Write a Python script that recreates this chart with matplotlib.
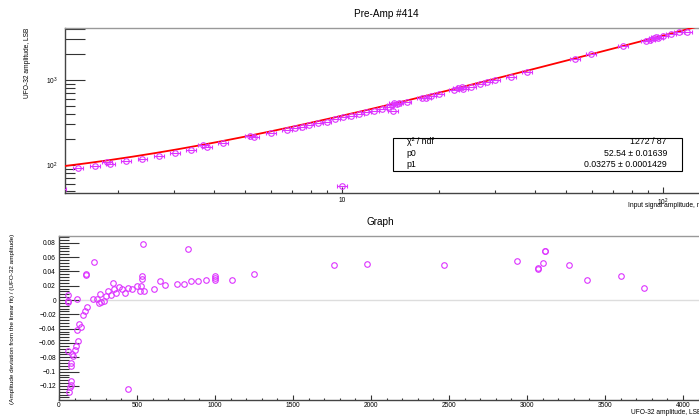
import matplotlib
matplotlib.use('Agg')
import matplotlib.pyplot as plt
from matplotlib.patches import Rectangle
from matplotlib.ticker import FixedLocator, FuncFormatter, MultipleLocator, NullFormatter
import numpy as np

plt.rcParams['font.family'] = ['Liberation Sans', 'DejaVu Sans']
plt.rcParams['mathtext.fontset'] = 'custom'
plt.rcParams['mathtext.rm'] = 'Liberation Sans'
plt.rcParams['mathtext.it'] = 'Liberation Sans:italic'
plt.rcParams['mathtext.bf'] = 'Liberation Sans:bold'

# top pad: UFO-32 amplitude vs input signal amplitude
input_mv = [1.33, 1.51, 1.70, 1.85, 1.90, 2.13, 2.39, 2.69, 3.02, 3.39, 3.70, 3.79, 4.25,
            5.17, 5.33, 6.00, 6.73, 7.13, 7.49, 7.91, 8.44, 8.96, 9.51, 10.1, 10.7,
            11.3, 11.9, 12.6, 13.3, 13.9, 14.3, 14.5, 14.8, 15.0, 15.9, 14.4, 17.8,
            18.3, 19.0, 20.1, 22.3, 23.0, 23.6, 23.9, 25.2, 26.9, 28.4, 30.0, 33.6,
            37.7, 53.2, 59.7, 75.2, 88.5, 91.2, 93.8, 95.3, 96.7, 100.0, 106.0, 112.0,
            119.0, 10.0]
ufo_lsb = [52, 91.5, 97.3, 108.5, 103.6, 112.4, 117.7, 128.6, 139.5, 150, 170.6, 164, 181.5,
           221, 215, 236, 258, 270, 282, 293, 315, 323, 345, 364, 380,
           395, 417, 435, 456, 477, 508, 532, 522, 532, 547, 431, 609,
           620, 649, 679, 757, 799, 820, 783, 834, 890, 940, 1000, 1094,
           1253, 1766, 2005, 2512, 2900, 2955, 3100, 3180, 3100, 3300, 3450, 3650,
           3720, 56]
x_rel_err = 0.035

# pol1 fit (x in uV), from the stats box
p0, p0_err = 52.54, 0.01639
p1, p1_err = 0.03275, 0.0001429
chi2, ndf = 1272, 87

# bottom pad: relative deviation from the linear fit
amp_lsb = [56, 56, 56, 60, 64, 71, 75, 77, 75, 76, 81, 87, 103, 109, 113, 115, 120, 130,
           141, 152, 167, 177, 173, 174, 216, 224, 242, 256, 263, 272, 288, 301, 316,
           331, 348, 352, 365, 385, 406, 423, 440, 444, 470, 498, 519, 526, 530, 531,
           541, 547, 609, 647, 680, 758, 801, 829, 844, 893, 942, 1000, 1000, 1000,
           1107, 1250, 1763, 1972, 2468, 2938, 3069, 3071, 3100, 3115, 3116, 3271,
           3387, 3603, 3750]
rel_dev = [0.007, -0.001, -0.003, -0.071, -0.129, -0.121, -0.113, -0.118, -0.088, -0.092,
           -0.076, -0.078, -0.070, -0.064, 0.002, -0.042, -0.057, -0.034, -0.037, -0.021,
           -0.015, -0.010, 0.035, 0.037, 0.001, 0.053, 0.002, -0.004, 0.009, -0.003,
           -0.002, 0.005, 0.013, 0.007, 0.024, 0.016, 0.010, 0.018, 0.015, 0.010,
           -0.124, 0.017, 0.015, 0.020, 0.013, 0.020, 0.029, 0.033, 0.078, 0.013,
           0.015, 0.027, 0.021, 0.023, 0.023, 0.071, 0.026, 0.026, 0.028, 0.028,
           0.031, 0.033, 0.028, 0.037, 0.049, 0.050, 0.049, 0.054, 0.043, 0.045,
           0.052, 0.069, 0.068, 0.049, 0.028, 0.033, 0.017]

MAG = '#dd33ff'
W, H = 699, 417

fig = plt.figure(figsize=(W / 100, H / 100), dpi=100)


def style_frame(ax):
    for s in ['left', 'bottom']:
        ax.spines[s].set_color('#444444')
    ax.spines['top'].set_color('#999999')
    ax.spines['right'].set_visible(False)
    for s in ax.spines.values():
        s.set_linewidth(1.0)


# ---------------------------------------------------------------- top pad
ax1 = fig.add_axes([65 / W, 1 - 193 / H, 640 / W, 165 / H])
ax1.set_xscale('log')
ax1.set_yscale('log')
ax1.set_xlim(1.371, 135.2)
ax1.set_ylim(46.9, 4090)

xs = np.logspace(np.log10(1.371), np.log10(135.2), 200)
ax1.plot(xs, p0 + p1 * xs * 1000, color='red', lw=1.3, zorder=3)
ax1.errorbar(input_mv, ufo_lsb, xerr=np.array(input_mv) * x_rel_err, fmt='o',
             mfc='none', mec=MAG, ecolor=MAG, ms=4, mew=0.8, elinewidth=0.8,
             capsize=1.5, capthick=0.8, zorder=4)

ax1.xaxis.set_major_locator(FixedLocator([10, 100]))
ax1.xaxis.set_major_formatter(FixedFormatter := FuncFormatter(
    lambda v, p: {10: '10', 100: '$10^{2}$'}.get(int(round(v)), '')))
ax1.xaxis.set_minor_locator(FixedLocator([2, 3, 4, 5, 6, 7, 8, 9, 20, 30, 40, 50, 60, 70, 80, 90]))
ax1.xaxis.set_minor_formatter(NullFormatter())
ax1.yaxis.set_major_locator(FixedLocator([1000, 2000, 3000, 4000]))
ax1.yaxis.set_major_formatter(FuncFormatter(lambda v, p: '$10^{3}$' if abs(v - 1000) < 1 else ''))
ax1.yaxis.set_minor_locator(FixedLocator([50, 60, 70, 80, 90, 100, 200, 300, 400, 500, 600, 700, 800, 900]))
ax1.yaxis.set_minor_formatter(FuncFormatter(lambda v, p: '$10^{2}$' if abs(v - 100) < 1 else ''))

ax1.tick_params(axis='x', which='major', direction='in', length=4.3, width=0.8, colors='#333333',
                labelcolor='black', labelsize=4.8, pad=3)
ax1.tick_params(axis='x', which='minor', direction='in', length=2.5, width=0.8, colors='#333333')
ax1.tick_params(axis='y', which='major', direction='in', length=14.4, width=0.8, colors='#333333',
                labelcolor='black', labelsize=4.8, pad=5.5)
ax1.tick_params(axis='y', which='minor', direction='in', length=7.2, width=0.8, colors='#333333',
                labelcolor='black', labelsize=4.8, pad=5.5)
style_frame(ax1)

# stats box
ax1.add_patch(Rectangle((0.512, 0.135), 0.4516, 0.2, transform=ax1.transAxes,
                        fc='white', ec='black', lw=0.8, zorder=6))
rows = [('χ² / ndf', f'{chi2} / {ndf}'),
        ('p0', f'{p0} ± {p0_err}'),
        ('p1', f'{p1} ± {p1_err}')]
for (name, val), yy in zip(rows, [0.311, 0.241, 0.174]):
    ax1.text(0.534, yy, name, transform=ax1.transAxes, ha='left', va='center', fontsize=6.3, zorder=7)
    ax1.text(0.9406, yy, val, transform=ax1.transAxes, ha='right', va='center', fontsize=6.3, zorder=7)

fig.text(386 / W, 1 - 14 / H, 'Pre-Amp #414', ha='center', va='center', fontsize=7.2)
fig.text(28 / W, 1 - 28 / H, 'UFO-32 amplitude, LSB', rotation=90, ha='center', va='top', fontsize=4.8)
fig.text(628 / W, 1 - 205 / H, 'Input signal amplitude, mV', ha='left', va='center', fontsize=4.8)

# ---------------------------------------------------------------- bottom pad
ax2 = fig.add_axes([59 / W, 1 - 400 / H, 646 / W, 164 / H])
ax2.set_xlim(0, 4141)
ax2.set_ylim(-0.1396, 0.0894)
ax2.axhline(0, color='#dddddd', lw=1.0, zorder=1)
ax2.plot(amp_lsb, rel_dev, 'o', mfc='none', mec=MAG, ms=4, mew=0.8, zorder=4)

ax2.xaxis.set_major_locator(MultipleLocator(500))
ax2.xaxis.set_minor_locator(MultipleLocator(100))
ax2.yaxis.set_major_locator(MultipleLocator(0.02))
ax2.yaxis.set_minor_locator(MultipleLocator(0.004))
ax2.yaxis.set_major_formatter(FuncFormatter(
    lambda v, p: '0' if abs(v) < 1e-9 else f'{v:.2f}'.rstrip('0').replace('-', '\u2212')))
ax2.tick_params(axis='x', which='major', direction='in', length=3.6, width=0.8, colors='#333333',
                labelcolor='black', labelsize=4.8, pad=1.5)
ax2.tick_params(axis='x', which='minor', direction='in', length=1.8, width=0.8, colors='#333333')
ax2.tick_params(axis='y', which='major', direction='in', length=14.4, width=0.8, colors='#333333',
                labelcolor='black', labelsize=4.8, pad=2.2)
ax2.tick_params(axis='y', which='minor', direction='in', length=7.2, width=0.8, colors='#333333')
style_frame(ax2)

fig.text(380 / W, 1 - 222 / H, 'Graph', ha='center', va='center', fontsize=7.2)
fig.text(13 / W, 1 - 234 / H, '(Amplitude deviation from the linear fit) / (UFO-32 amplitude)',
         rotation=90, ha='center', va='top', fontsize=4.6)
fig.text(631 / W, 1 - 412 / H, 'UFO-32 amplitude, LSB', ha='left', va='center', fontsize=4.8)

fig.savefig('out.png', dpi=100)
